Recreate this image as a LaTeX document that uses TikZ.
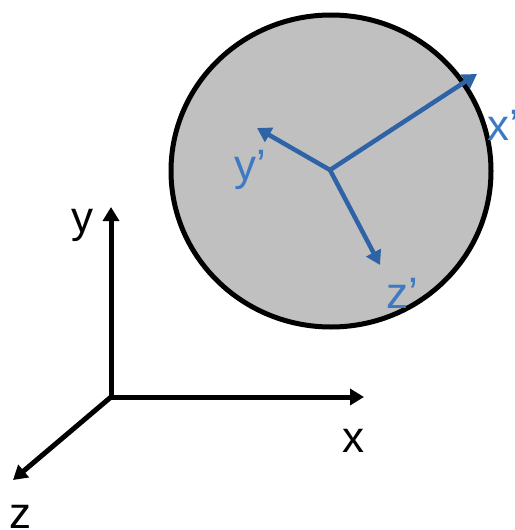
\documentclass[tikz,border=0pt]{standalone}
\usepackage{fontspec}
\setmainfont{Liberation Sans}
\usetikzlibrary{arrows.meta}
\definecolor{axblue}{RGB}{46,99,166}
\definecolor{lblblue}{RGB}{62,122,196}
\definecolor{ballgray}{RGB}{192,192,192}
\tikzset{
  axis/.style={line width=5pt,-{Triangle[length=14pt,width=16pt]}},
  bodyaxis/.style={axis,draw=axblue,line width=4.5pt},
  lbl/.style={anchor=base west,inner sep=0pt,font=\fontsize{44}{44}\selectfont},
  blbl/.style={lbl,text=lblblue}
}
\begin{document}
\begin{tikzpicture}[x=1pt,y=-1pt]
\useasboundingbox (0,0) rectangle (514,530);
% ball
\draw[line width=5pt,fill=ballgray] (331,171) ellipse [x radius=160, y radius=156];
% body frame
\coordinate (o2) at (330,170);
\coordinate (xp) at (477,74);
\coordinate (yp) at (257,128);
\coordinate (zp) at (380,265);
\draw[bodyaxis] (o2) -- (xp);
\draw[bodyaxis] (o2) -- (yp);
\draw[bodyaxis] (o2) -- (zp);
\node[blbl] (lx2) at (487,140) {x’};
\node[blbl] (ly2) at (234,180) {y’};
\node[blbl] (lz2) at (386,308) {z’};
% world frame
\coordinate (o) at (111,397);
\coordinate (xw) at (364,397);
\coordinate (yw) at (111,207);
\coordinate (zw) at (13,480);
\draw[axis] (o) -- (xw);
\draw[axis] (o) -- (yw);
\draw[axis] (o) -- (zw);
\node[lbl] (lx) at (342,452) {x};
\node[lbl] (ly) at (71,232) {y};
\node[lbl] (lz) at (9,528) {z};
\end{tikzpicture}
\end{document}
